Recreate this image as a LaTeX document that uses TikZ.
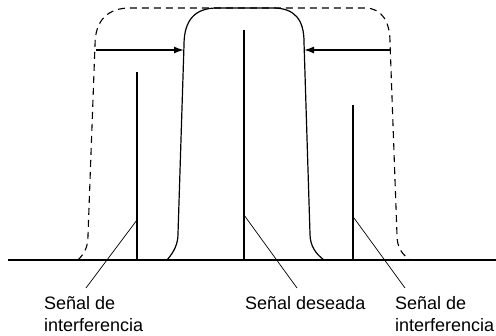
\documentclass[tikz,border=0pt]{standalone}
\usepackage{fontspec}
\setmainfont{Liberation Sans}
\usetikzlibrary{arrows.meta}

\begin{document}
\begin{tikzpicture}[
  x=1pt, y=-1pt,
  axis/.style={line width=1.6pt},
  sig/.style={line width=1.6pt},
  filt/.style={line width=1.2pt, line join=round},
  mask/.style={line width=1.1pt, dash pattern=on 7pt off 5pt},
  lead/.style={line width=0.7pt},
  arr/.style={-{Latex[length=10pt,width=7pt]}, line width=1.6pt},
  lbl/.style={inner sep=0pt, align=left, font=\fontsize{18}{22}\selectfont}
]
\useasboundingbox (0,0) rectangle (496,336);

% frequency axis
\coordinate (ax0) at (8,260);
\coordinate (ax1) at (496,260);
\draw[axis] (ax0) -- (ax1);

% wide (dashed) passband
\draw[mask] (78,260) .. controls (86,252) and (88,245) .. (88,235)
  -- (95,45) .. controls (95,20) and (108,8) .. (130,8)
  -- (365,8) .. controls (382,8) and (390,22) .. (390,42)
  -- (397,235) .. controls (397,248) and (402,254) .. (410,260);

% narrow (solid) passband
\draw[filt] (167,260) .. controls (174,252) and (178,244) .. (178,234)
  -- (184,45) .. controls (184,20) and (195,8) .. (217,8)
  -- (273,8) .. controls (295,8) and (304,20) .. (304,42)
  -- (310,234) .. controls (310,246) and (316,254) .. (324,260);

% narrowing arrows
\coordinate (wl) at (96,50);
\coordinate (nl) at (184,50);
\coordinate (wr) at (391,50);
\coordinate (nr) at (304,50);
\draw[arr] (wl) -- (nl);
\draw[arr] (wr) -- (nr);

% signals
\coordinate (il0) at (137,260);
\coordinate (il1) at (137,72);
\coordinate (ds0) at (244,260);
\coordinate (ds1) at (244,30);
\coordinate (ir0) at (353,260);
\coordinate (ir1) at (353,105);
\draw[sig] (il0) -- (il1);
\draw[sig] (ds0) -- (ds1);
\draw[sig] (ir0) -- (ir1);

% labels
\node[lbl, anchor=north west] (intl) at (44,296) {Señal de\\interferencia};
\node[lbl, anchor=north west] (want) at (245,296) {Señal deseada};
\node[lbl, anchor=north west] (intr) at (395,296) {Señal de\\interferencia};

\coordinate (pl) at (137,220);
\coordinate (pd) at (244,215);
\coordinate (pr) at (354,218);
\coordinate (el) at (86,288);
\coordinate (ed) at (297,288);
\coordinate (er) at (405,288);
\draw[lead] (pl) -- (el);
\draw[lead] (pd) -- (ed);
\draw[lead] (pr) -- (er);
\end{tikzpicture}
\end{document}
